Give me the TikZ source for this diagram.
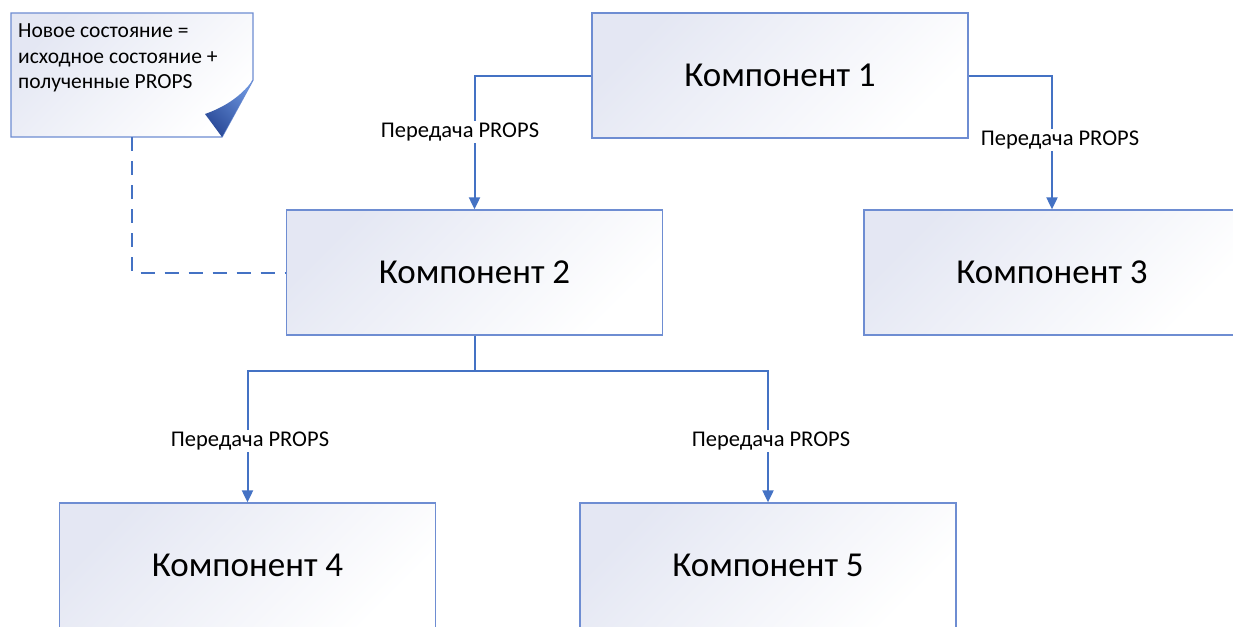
\documentclass[tikz,border=0pt]{standalone}
\usepackage{fontspec}
\setmainfont{Carlito}
\usetikzlibrary{arrows.meta}
\definecolor{edge}{HTML}{4472C4}
\definecolor{boxedge}{HTML}{6E8DD2}
\definecolor{boxtop}{HTML}{E4E7F3}
\definecolor{folddark}{HTML}{2A4A98}
\definecolor{foldlight}{HTML}{6A92DC}
\tikzset{
  comp/.style={draw=boxedge, line width=1.3pt, minimum width=376pt, minimum height=125pt,
    top color=boxtop, bottom color=white, shading angle=45,
    font=\fontsize{35}{40}\selectfont, inner sep=0pt},
  link/.style={draw=edge, line width=2pt},
  arr/.style={link, -{Triangle[length=12pt,width=11pt]}},
  lbl/.style={fill=white, font=\fontsize{22.5}{26}\selectfont, inner sep=2pt},
  notelink/.style={draw=edge, line width=2pt, dash pattern=on 14pt off 10pt},
}
\begin{document}
\begin{tikzpicture}[x=1pt,y=-1pt]
\useasboundingbox (0,0) rectangle (1233,626);
\clip (0,0) rectangle (1233,626);
\fill[white] (0,0) rectangle (1233,626);

% note with folded corner
\shade[top color=boxtop, bottom color=white, shading angle=45]
  (11,13) -- (253,13) -- (253,80) -- (222,137) -- (11,137) -- cycle;
\draw[boxedge, line width=1.3pt, line join=miter]
  (11,13) -- (253,13) -- (253,80) -- (222,137) -- (11,137) -- cycle;
\shade[top color=foldlight, bottom color=folddark, shading angle=-45]
  (253,80) -- (222,137) -- (205,114) .. controls (222,108) and (240,98) .. (253,80) -- cycle;
\node[anchor=north west, align=left, font=\fontsize{21.5}{25.5}\selectfont, inner sep=0pt]
  (note) at (18,24) {Новое состояние =\\исходное состояние +\\полученные PROPS};
\coordinate (notebot) at (132,137);

% components
\node[comp] (c1) at (780,75.5) {Компонент 1};
\node[comp] (c2) at (474.5,272.5) {Компонент 2};
\node[comp] (c3) at (1052,272.5) {Компонент 3};
\node[comp] (c4) at (247.5,565.5) {Компонент 4};
\node[comp] (c5) at (768,565.5) {Компонент 5};

% connectors
\draw[notelink] (notebot) |- (c2.west);
\draw[arr] (c1.west) -| (c2.north);
\draw[arr] (c1.east) -| (c3.north);
\draw[link] (c2.south) -- ++(0,35) coordinate (split);
\draw[arr] (split) -| (c4.north);
\draw[arr] (split) -| (c5.north);

% connector labels
\node[lbl] (l12) at (460,132) {Передача PROPS};
\node[lbl] (l13) at (1060,140) {Передача PROPS};
\node[lbl] (l24) at (250,441) {Передача PROPS};
\node[lbl] (l25) at (771,441) {Передача PROPS};
\end{tikzpicture}
\end{document}
